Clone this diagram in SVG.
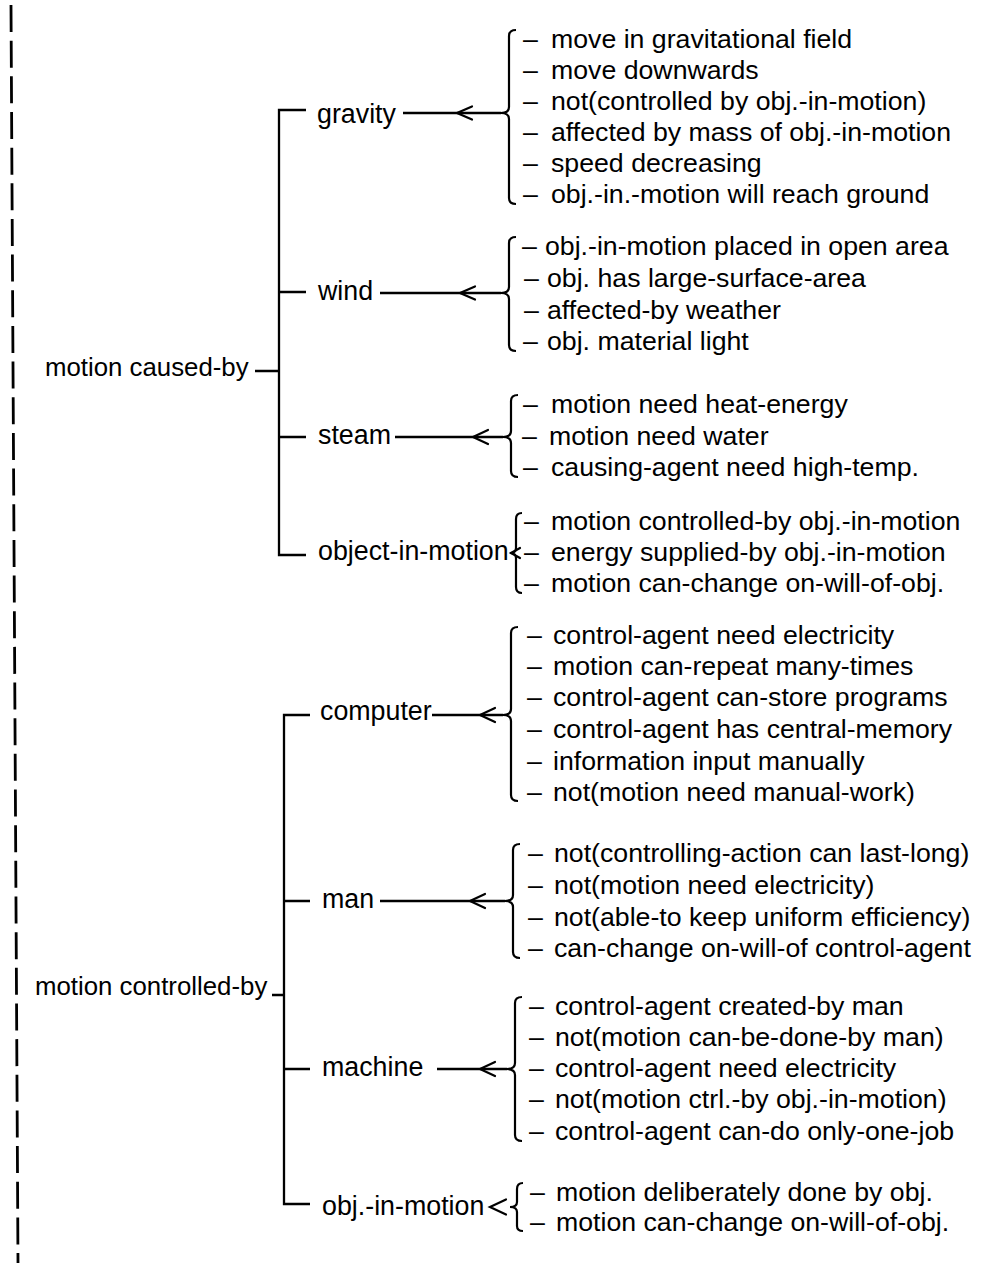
<svg xmlns="http://www.w3.org/2000/svg" width="985" height="1263" viewBox="0 0 985 1263">
<style>
text{font-family:"Liberation Sans",Arial,Helvetica,sans-serif;font-size:26.7px;fill:#000}
text.node{font-size:26.8px}
text.root{font-size:25.8px}
.ln{stroke:#000;stroke-width:2.3;fill:none;stroke-linecap:butt}
.br{stroke:#000;stroke-width:2.2;fill:none}
.ar{stroke:#000;stroke-width:2.2;fill:none;stroke-linecap:round}
</style>
<rect width="985" height="1263" fill="#fff"/>
<line x1="11" y1="5" x2="18" y2="1263" stroke="#000" stroke-width="2.8" stroke-dasharray="27 8.66"/>

<g id="connectors">
<path class="ln" d="M306,110 H279 V555 H306"/>
<path class="ln" d="M279,292 H306 M279,437 H306 M255,371 H279"/>
<path class="ln" d="M310,715 H284 V1204 H310"/>
<path class="ln" d="M284,901 H310 M284,1069 H310 M272,995 H284"/>
<path class="ln" d="M403,113 H501"/>
<path class="ar" d="M472,106.5 L457,113 L472,119.5"/>
<path class="ln" d="M380,293 H501"/>
<path class="ar" d="M475,286.5 L460,293 L475,299.5"/>
<path class="ln" d="M395,437 H503"/>
<path class="ar" d="M488,430 L473,437 L488,444"/>
<path class="ar" d="M520,548 L511,553 L520,558"/>
<path class="ln" d="M432,715 H503"/>
<path class="ar" d="M495,708 L480,715 L495,722"/>
<path class="ln" d="M380,901 H505"/>
<path class="ar" d="M485,894 L470,901 L485,908"/>
<path class="ln" d="M437,1069 H507"/>
<path class="ar" d="M495,1062 L480,1069 L495,1076"/>
<path class="ar" d="M506,1199.5 L490,1207 L506,1214.5"/>
<path class="br" d="M516,30 Q509,30 509,36 V107 Q509,113 501,113 Q509,113 509,119 V198 Q509,204 516,204"/>
<path class="br" d="M516,237 Q509,237 509,243 V287 Q509,293 501,293 Q509,293 509,299 V345 Q509,351 516,351"/>
<path class="br" d="M518,395 Q511,395 511,401 V431 Q511,437 503,437 Q511,437 511,443 V471 Q511,477 518,477"/>
<path class="br" d="M522,513 Q516,513 516,519 V548 Q516,553 510,553 Q516,553 516,558 V587 Q516,593 522,593"/>
<path class="br" d="M518,627 Q511,627 511,633 V709 Q511,715 503,715 Q511,715 511,721 V795 Q511,801 518,801"/>
<path class="br" d="M520,844 Q513,844 513,850 V895 Q513,901 505,901 Q513,901 513,907 V952 Q513,958 520,958"/>
<path class="br" d="M522,997 Q515,997 515,1003 V1063 Q515,1069 507,1069 Q515,1069 515,1075 V1135 Q515,1141 522,1141"/>
<path class="br" d="M523,1183 Q517,1183 517,1189 V1202 Q517,1207 510,1207 Q517,1207 517,1212 V1226 Q517,1231 523,1231"/>
</g>

<g id="root-caused"><text class="root" x="45" y="376">motion caused-by</text></g>
<g id="root-controlled"><text class="root" x="35" y="995">motion controlled-by</text></g>

<g id="gravity"><text class="node" x="317" y="123">gravity</text></g>
<g id="gravity-props">
<text x="523" y="48">–<tspan x="551">move in gravitational field</tspan></text>
<text x="523" y="79">–<tspan x="551">move downwards</tspan></text>
<text x="523" y="110">–<tspan x="551">not(controlled by obj.-in-motion)</tspan></text>
<text x="523" y="141">–<tspan x="551">affected by mass of obj.-in-motion</tspan></text>
<text x="523" y="172">–<tspan x="551">speed decreasing</tspan></text>
<text x="523" y="203">–<tspan x="551">obj.-in.-motion will reach ground</tspan></text>
</g>

<g id="wind"><text class="node" x="318" y="300">wind</text></g>
<g id="wind-props">
<text x="522" y="255">–<tspan x="545">obj.-in-motion placed in open area</tspan></text>
<text x="524" y="287">–<tspan x="547">obj. has large-surface-area</tspan></text>
<text x="524" y="319">–<tspan x="547">affected-by weather</tspan></text>
<text x="523" y="350">–<tspan x="547">obj. material light</tspan></text>
</g>

<g id="steam"><text class="node" x="318" y="444">steam</text></g>
<g id="steam-props">
<text x="523" y="413">–<tspan x="551">motion need heat-energy</tspan></text>
<text x="522" y="445">–<tspan x="549">motion need water</tspan></text>
<text x="523" y="476">–<tspan x="551">causing-agent need high-temp.</tspan></text>
</g>

<g id="object-in-motion"><text class="node" x="318" y="560">object-in-motion</text></g>
<g id="object-in-motion-props">
<text x="524" y="530">–<tspan x="551">motion controlled-by obj.-in-motion</tspan></text>
<text x="524" y="561">–<tspan x="551">energy supplied-by obj.-in-motion</tspan></text>
<text x="524" y="592">–<tspan x="551">motion can-change on-will-of-obj.</tspan></text>
</g>

<g id="computer"><text class="node" x="320" y="720">computer</text></g>
<g id="computer-props">
<text x="527" y="644">–<tspan x="553">control-agent need electricity</tspan></text>
<text x="527" y="675">–<tspan x="553">motion can-repeat many-times</tspan></text>
<text x="527" y="706">–<tspan x="553">control-agent can-store programs</tspan></text>
<text x="527" y="738">–<tspan x="553">control-agent has central-memory</tspan></text>
<text x="527" y="770">–<tspan x="553">information input manually</tspan></text>
<text x="527" y="801">–<tspan x="553">not(motion need manual-work)</tspan></text>
</g>

<g id="man"><text class="node" x="322" y="908">man</text></g>
<g id="man-props">
<text x="528" y="862">–<tspan x="554">not(controlling-action can last-long)</tspan></text>
<text x="528" y="894">–<tspan x="554">not(motion need electricity)</tspan></text>
<text x="528" y="926">–<tspan x="554">not(able-to keep uniform efficiency)</tspan></text>
<text x="528" y="957">–<tspan x="554">can-change on-will-of control-agent</tspan></text>
</g>

<g id="machine"><text class="node" x="322" y="1076">machine</text></g>
<g id="machine-props">
<text x="529" y="1015">–<tspan x="555">control-agent created-by man</tspan></text>
<text x="529" y="1046">–<tspan x="555">not(motion can-be-done-by man)</tspan></text>
<text x="529" y="1077">–<tspan x="555">control-agent need electricity</tspan></text>
<text x="529" y="1108">–<tspan x="555">not(motion ctrl.-by obj.-in-motion)</tspan></text>
<text x="529" y="1140">–<tspan x="555">control-agent can-do only-one-job</tspan></text>
</g>

<g id="obj-in-motion"><text class="node" x="322" y="1215">obj.-in-motion</text></g>
<g id="obj-in-motion-props">
<text x="530" y="1201">–<tspan x="556">motion deliberately done by obj.</tspan></text>
<text x="530" y="1231">–<tspan x="556">motion can-change on-will-of-obj.</tspan></text>
</g>
</svg>
